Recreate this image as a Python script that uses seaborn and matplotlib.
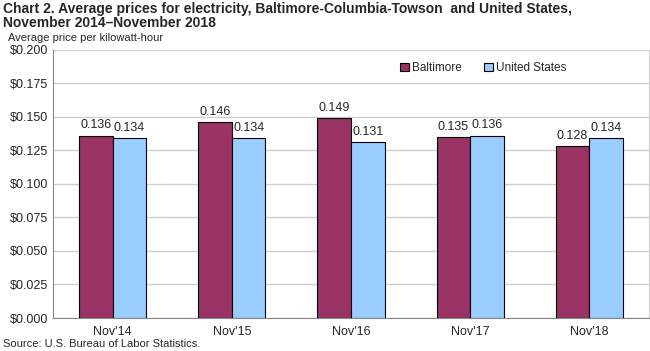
import pandas as pd
import seaborn as sns
import matplotlib.pyplot as plt
from matplotlib.ticker import FuncFormatter

periods = ["Nov'14", "Nov'15", "Nov'16", "Nov'17", "Nov'18"]
baltimore = [0.136, 0.146, 0.149, 0.135, 0.128]
united_states = [0.134, 0.134, 0.131, 0.136, 0.134]

df = pd.DataFrame({
    "period": periods * 2,
    "area": ["Baltimore"] * 5 + ["United States"] * 5,
    "price": baltimore + united_states,
})

sns.set_style("white")
plt.rcParams["font.family"] = ["Liberation Sans", "DejaVu Sans"]

fig = plt.figure(figsize=(6.5, 3.51), dpi=100)
ax = fig.add_axes([0.0815, 0.094, 0.917, 0.764])

sns.barplot(data=df, x="period", y="price", hue="area",
            palette=["#993366", "#99CCFF"], saturation=1, width=0.565,
            edgecolor="black", linewidth=0.8, ax=ax, zorder=3)

for cont in ax.containers:
    ax.bar_label(cont, fmt="%.3f", padding=3, fontsize=9)

ax.set_ylim(0, 0.2)
ax.set_yticks([i * 0.025 for i in range(9)])
ax.yaxis.set_major_formatter(FuncFormatter(lambda v, p: f"${v:.3f}"))
ax.grid(axis="y", color="#d0d0d0", linewidth=1, zorder=0)
ax.set_xlabel("")
ax.set_ylabel("")
ax.tick_params(axis="both", labelsize=9, length=0)
ax.tick_params(axis="x", pad=6)
ax.spines["top"].set_visible(False)
for s in ["left", "bottom"]:
    ax.spines[s].set_color("#888888")
ax.spines["right"].set_color("#d0d0d0")

leg = ax.legend(loc="center left", bbox_to_anchor=(0.565, 0.933), ncol=2,
                frameon=False, fontsize=8.5, handlelength=0.7, handleheight=0.7,
                handletextpad=0.3, columnspacing=1.9)

fig.text(0.005, 0.995, "Chart 2. Average prices for electricity, Baltimore-Columbia-Towson  and United States,\nNovember 2014\u2013November 2018",
         ha="left", va="top", fontsize=10, fontweight="bold", linespacing=1.0)
fig.text(0.012, 0.892, "Average price per kilowatt-hour", ha="left", va="center", fontsize=8)
fig.text(0.005, 0.005, "Source: U.S. Bureau of Labor Statistics.", ha="left", va="bottom", fontsize=8)

fig.savefig("out.png", dpi=100)
